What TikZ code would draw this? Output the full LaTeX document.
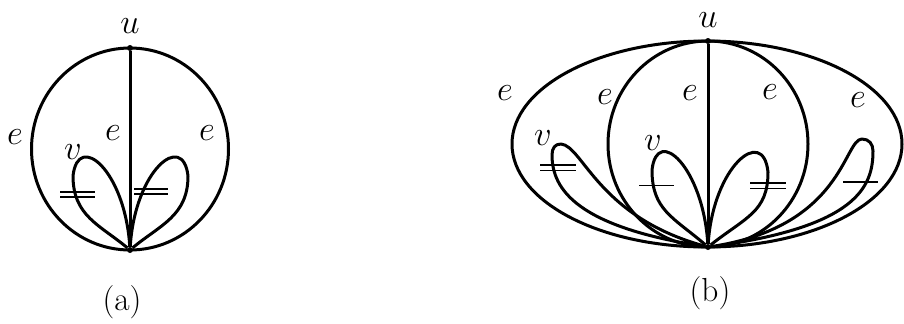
\documentclass[tikz,border=0pt]{standalone}
\usetikzlibrary{positioning}

\begin{document}
\begin{tikzpicture}[
    x=0.6pt, y=-0.6pt,
    font=\fontsize{20}{24}\selectfont,
    vertexDot/.style={
        circle, fill=black, inner sep=0pt, minimum size=3.6pt
    },
    edgeLine/.style={
        line width=1.8pt, line join=round
    },
    tickLine/.style={
        line width=0.9pt
    },
    labelNode/.style={
        inner sep=0pt
    }
]
\useasboundingbox (0,0) rectangle (904,323);

% Vertices (a)
\node[vertexDot] (ua) at (130,48) {};
\node[vertexDot] (wa) at (130,250) {};
\coordinate (ca) at (130,149);
\coordinate (ja1) at (73,176);
\coordinate (ja2) at (188,176);

% Vertices (b)
\node[vertexDot] (ub) at (708,41) {};
\node[vertexDot] (wb) at (708,247) {};
\coordinate (cbOut) at (707,144);
\coordinate (cbIn) at (708,144);
\coordinate (jb1) at (552,155);  % side of loop 1
\coordinate (tb1) at (561,144);  % top of loop 1
\coordinate (jb2) at (652,170);
\coordinate (jb3) at (768,172);
\coordinate (jb4) at (873,151);  % side of loop 4
\coordinate (tb4) at (862,139);  % top of loop 4

% Edges (a)
\draw[edgeLine] (ca) ellipse [x radius=98.5, y radius=101];
\draw[edgeLine] (ua) -- (wa);
\draw[edgeLine] (wa) .. controls +(-30,-25) and +(0,40) .. (ja1)
    .. controls +(5,-45) and +(-5,-80) .. (wa);
\draw[edgeLine] (wa) .. controls +(30,-25) and +(0,40) .. (ja2)
    .. controls +(-5,-45) and +(5,-80) .. (wa);

% Edges (b)
\draw[edgeLine] (cbOut) ellipse [x radius=195, y radius=103];
\draw[edgeLine] (cbIn) ellipse [x radius=100, y radius=103];
\draw[edgeLine] (ub) -- (wb);
\draw[edgeLine] (wb) .. controls +(-130,-20) and +(0,35) .. (jb1)
    .. controls +(0,-7) and +(-6,0) .. (tb1)
    .. controls +(22,2) and +(-110,-30) .. (wb);
\draw[edgeLine] (wb) .. controls +(-35,-30) and +(0,40) .. (jb2)
    .. controls +(5,-45) and +(-5,-80) .. (wb);
\draw[edgeLine] (wb) .. controls +(38,-30) and +(0,40) .. (jb3)
    .. controls +(-5,-47) and +(5,-80) .. (wb);
\draw[edgeLine] (wb) .. controls +(150,-20) and +(0,35) .. (jb4)
    .. controls +(0,-7) and +(7,0) .. (tb4)
    .. controls +(-18,0) and +(135,-20) .. (wb);

% Tick marks
\draw[tickLine] (60,192) -- (95,192) (60,197) -- (95,197);
\draw[tickLine] (134,189) -- (168,189) (134,194) -- (168,194);
\draw[tickLine] (540,165) -- (576,165) (540,170.5) -- (576,170.5);
\draw[tickLine] (639,185.5) -- (674,185.5);
\draw[tickLine] (750,183) -- (786,183) (750,188.5) -- (786,188.5);
\draw[tickLine] (843,182) -- (878,182);

% Labels (a)
\node[labelNode] (lua) at (130,26) {$u$};
\node[labelNode] (lea1) at (15,137) {$e$};
\node[labelNode] (lea2) at (113,133) {$e$};
\node[labelNode] (lea3) at (207,133) {$e$};
\node[labelNode] (lva) at (73,152) {$v$};
\node[labelNode] (capa) at (122,302) {(a)};

% Labels (b)
\node[labelNode] (lub) at (708,20) {$u$};
\node[labelNode] (leb1) at (505,93) {$e$};
\node[labelNode] (leb2) at (605,97) {$e$};
\node[labelNode] (leb3) at (690,93) {$e$};
\node[labelNode] (leb4) at (770,92) {$e$};
\node[labelNode] (leb5) at (858,100) {$e$};
\node[labelNode] (lvb1) at (543,138) {$v$};
\node[labelNode] (lvb2) at (653,143) {$v$};
\node[labelNode] (capb) at (710,293) {(b)};

\end{tikzpicture}
\end{document}
